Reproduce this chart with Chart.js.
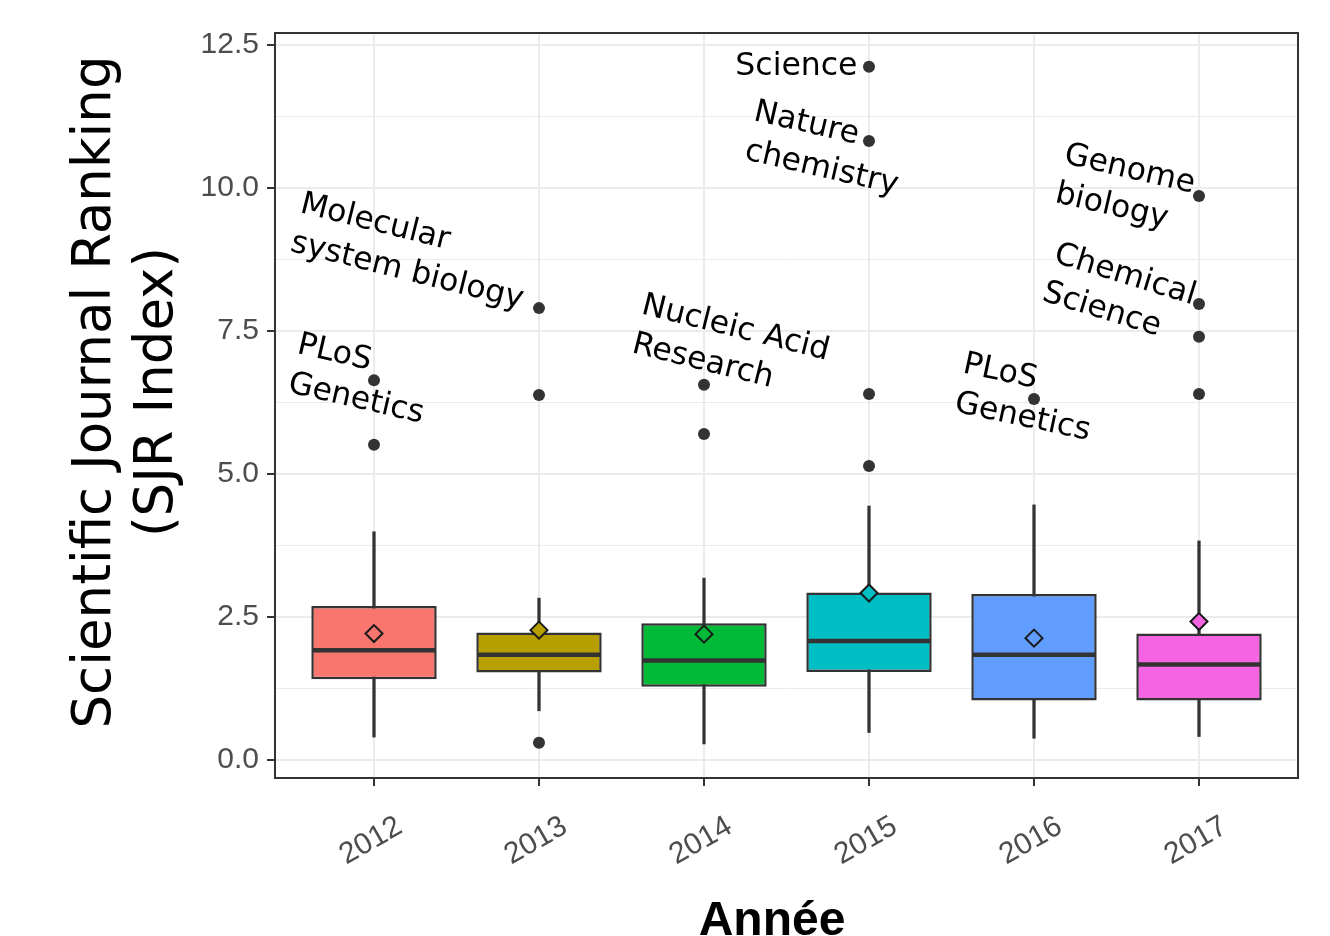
<!DOCTYPE html>
<html>
<head>
<meta charset="utf-8">
<script src="https://cdn.jsdelivr.net/npm/chart.js@4"></script>
<style>
  body { margin: 0; background: #fff; }
  #wrap { width: 1330px; height: 936px; }
</style>
</head>
<body>
<div id="wrap"><canvas id="sjrChart" width="1330" height="936"></canvas></div>
<script>
// Données
const years = ["2012", "2013", "2014", "2015", "2016", "2017"];
const q1 = [1.41, 1.53, 1.28, 1.54, 1.04, 1.04];
const q3 = [2.69, 2.23, 2.39, 2.93, 2.90, 2.21];
const medians = [1.92, 1.84, 1.74, 2.08, 1.84, 1.67];
const whiskerLow = [0.40, 0.86, 0.28, 0.48, 0.38, 0.41];
const whiskerHigh = [3.99, 2.83, 3.18, 4.44, 4.46, 3.83];
const means = [2.21, 2.27, 2.20, 2.92, 2.13, 2.42];
const outliers = [
  [5.51, 6.64],
  [0.30, 6.38, 7.90],
  [5.70, 6.56],
  [5.14, 6.40, 10.82, 12.12],
  [6.31],
  [6.40, 7.40, 7.97, 9.86],
];
const yTicks = [0, 1.25, 2.5, 3.75, 5, 6.25, 7.5, 8.75, 10, 11.25, 12.5];

// Étiquettes des revues (position en coordonnées des données)
const noteLines = [
  ["Molecular", "system biology"],
  ["PLoS", "Genetics"],
  ["Nucleic Acid", "Research"],
  ["Science"],
  ["Nature", "chemistry"],
  ["PLoS", "Genetics"],
  ["Genome", "biology"],
  ["Chemical", "Science"],
];
const noteX = [0.545, 0.527, 2.614, 3.19, 3.294, 4.562, 5.175, 5.114];
const noteY = [9.58, 7.12, 7.81, 11.98, 11.19, 6.78, 10.44, 8.71];
const noteAngle = [14, 13, 14, 0, 13, 12, 13, 17];

const boxColors = ["#F8766D", "#B79F00", "#00BA38", "#00BFC4", "#619CFF", "#F564E3"];

const outlierPoints = [];
outliers.forEach((vals, i) => vals.forEach(v => outlierPoints.push({ x: i + 1, y: v })));

function isMajor(v) {
  return Math.abs(v / 2.5 - Math.round(v / 2.5)) < 1e-6;
}

// Médianes, étiquettes, cadre et titres
const boxExtras = {
  id: "boxExtras",
  afterDatasetDraw(chart, args) {
    if (args.index !== 2) return;
    const ctx = chart.ctx;
    const y = chart.scales.y;
    const meta = chart.getDatasetMeta(2);
    ctx.save();
    ctx.strokeStyle = "#333333";
    ctx.lineWidth = 4.5;
    meta.data.forEach((bar, i) => {
      const half = bar.width / 2;
      const py = y.getPixelForValue(medians[i]);
      ctx.beginPath();
      ctx.moveTo(bar.x - half + 1, py);
      ctx.lineTo(bar.x + half - 1, py);
      ctx.stroke();
    });
    ctx.restore();
  },
  afterDatasetsDraw(chart) {
    const ctx = chart.ctx;
    const { x, y } = chart.scales;
    const area = chart.chartArea;

    // étiquettes
    ctx.save();
    ctx.fillStyle = "#000000";
    ctx.font = "31.5px 'DejaVu Sans'";
    ctx.textAlign = "left";
    ctx.textBaseline = "alphabetic";
    noteLines.forEach((lines, i) => {
      ctx.save();
      ctx.translate(x.getPixelForValue(noteX[i]), y.getPixelForValue(noteY[i]));
      ctx.rotate((noteAngle[i] * Math.PI) / 180);
      lines.forEach((t, j) => ctx.fillText(t, 0, j * 40));
      ctx.restore();
    });
    ctx.restore();

    // cadre du panneau
    ctx.save();
    ctx.strokeStyle = "#333333";
    ctx.lineWidth = 2;
    ctx.strokeRect(area.left, area.top, area.right - area.left, area.bottom - area.top);
    ctx.restore();
  },
  afterDraw(chart) {
    const ctx = chart.ctx;
    const x = chart.scales.x;
    const area = chart.chartArea;

    // années (inclinées)
    ctx.save();
    ctx.fillStyle = "#4D4D4D";
    ctx.font = "30px 'Liberation Sans'";
    ctx.textAlign = "center";
    ctx.textBaseline = "middle";
    years.forEach((yr, i) => {
      ctx.save();
      ctx.translate(x.getPixelForValue(i + 1) - 3, area.bottom + 63);
      ctx.rotate((-30 * Math.PI) / 180);
      ctx.fillText(yr, 0, 0);
      ctx.restore();
    });
    ctx.restore();

    // titre axe x
    ctx.save();
    ctx.fillStyle = "#000000";
    ctx.font = "bold 48px 'Liberation Sans'";
    ctx.textAlign = "center";
    ctx.textBaseline = "alphabetic";
    ctx.fillText("Année", 772, 935);
    ctx.restore();

    // titre axe y
    ctx.save();
    ctx.fillStyle = "#000000";
    ctx.font = "53px 'DejaVu Sans'";
    ctx.textAlign = "center";
    ctx.textBaseline = "alphabetic";
    ctx.translate(110, 392);
    ctx.rotate(-Math.PI / 2);
    ctx.fillText("Scientific Journal Ranking", 0, 0);
    ctx.fillText("(SJR Index)", 0, 62);
    ctx.restore();
  },
};

const ctx = document.getElementById("sjrChart");
new Chart(ctx, {
  type: "bar",
  data: {
    datasets: [
      {
        type: "scatter",
        label: "Moyenne",
        data: means.map((m, i) => ({ x: i + 1, y: m })),
        pointStyle: "rectRot",
        pointRadius: 8.5,
        pointBackgroundColor: boxColors,
        pointBorderColor: "#1A1A1A",
        pointBorderWidth: 2,
        order: 0,
      },
      {
        type: "scatter",
        label: "Valeurs extrêmes",
        data: outlierPoints,
        pointRadius: 6,
        pointBackgroundColor: "#333333",
        pointBorderWidth: 0,
        order: 1,
      },
      {
        type: "bar",
        label: "Boîte",
        data: years.map((_, i) => ({ x: i + 1, y: [q1[i], q3[i]] })),
        backgroundColor: boxColors,
        borderColor: "#333333",
        borderWidth: 2.5,
        borderSkipped: false,
        grouped: false,
        barPercentage: 0.76,
        categoryPercentage: 1,
        order: 2,
      },
      {
        type: "bar",
        label: "Moustaches",
        data: years.map((_, i) => ({ x: i + 1, y: [whiskerLow[i], whiskerHigh[i]] })),
        backgroundColor: "#333333",
        barThickness: 2.6,
        grouped: false,
        order: 3,
      },
    ],
  },
  options: {
    responsive: false,
    animation: false,
    events: [],
    layout: { padding: { top: 33, right: 32, left: 0, bottom: 0 } },
    plugins: {
      legend: { display: false },
      tooltip: { enabled: false },
    },
    scales: {
      x: {
        type: "linear",
        min: 0.4,
        max: 6.6,
        offset: false,
        afterBuildTicks: (s) => {
          s.ticks = years.map((_, i) => ({ value: i + 1 }));
        },
        afterFit: (s) => {
          s.height = 158;
        },
        ticks: { display: false },
        grid: {
          offset: false,
          color: "#EBEBEB",
          lineWidth: 2,
          tickColor: "#333333",
          tickLength: 8,
          tickWidth: 2,
        },
        border: { display: false },
      },
      y: {
        min: -0.315,
        max: 12.71,
        afterBuildTicks: (s) => {
          s.ticks = yTicks.map((v) => ({ value: v }));
        },
        afterFit: (s) => {
          s.width = 275;
        },
        ticks: {
          autoSkip: false,
          color: "#4D4D4D",
          padding: 8,
          font: { family: "'Liberation Sans'", size: 30 },
          callback: (v) => (isMajor(v) ? v.toFixed(1) : ""),
        },
        grid: {
          color: "#EBEBEB",
          lineWidth: (c) => (isMajor(c.tick.value) ? 2 : 1),
          tickColor: (c) => (isMajor(c.tick.value) ? "#333333" : "rgba(0,0,0,0)"),
          tickLength: 8,
          tickWidth: 2,
        },
        border: { display: false },
      },
    },
  },
  plugins: [boxExtras],
});
</script>
</body>
</html>
